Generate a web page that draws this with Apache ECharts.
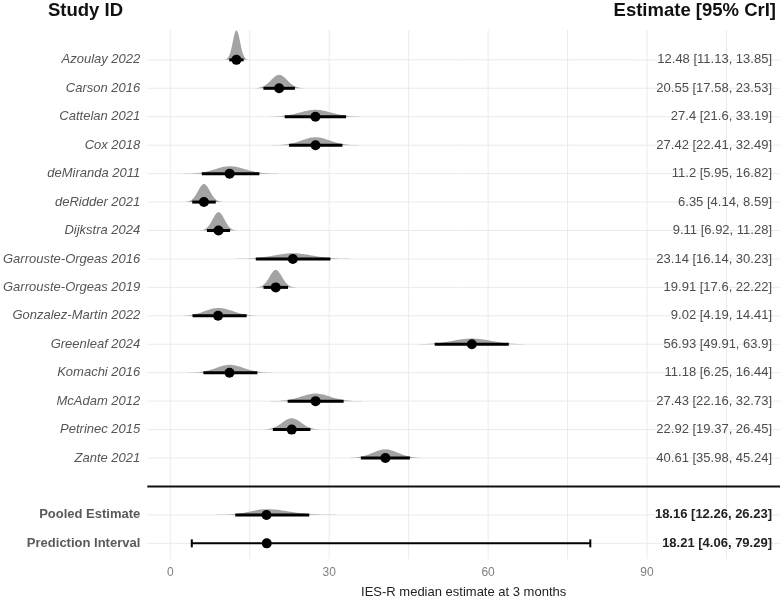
<!DOCTYPE html>
<html>
<head>
<meta charset="utf-8">
<script src="https://cdn.jsdelivr.net/npm/echarts@6/dist/echarts.min.js"></script>
<style>
  html, body { margin: 0; padding: 0; background: #fff; }
  #main { width: 783px; height: 604px; }
</style>
</head>
<body>
<div id="main"></div>
<script>
// study data (median and 95% CrI)
var studies = ['Azoulay 2022', 'Carson 2016', 'Cattelan 2021', 'Cox 2018', 'deMiranda 2011',
  'deRidder 2021', 'Dijkstra 2024', 'Garrouste-Orgeas 2016', 'Garrouste-Orgeas 2019',
  'Gonzalez-Martin 2022', 'Greenleaf 2024', 'Komachi 2016', 'McAdam 2012', 'Petrinec 2015', 'Zante 2021'];
var medians = [12.48, 20.55, 27.4, 27.42, 11.2, 6.35, 9.11, 23.14, 19.91, 9.02, 56.93, 11.18, 27.43, 22.92, 40.61];
var lowers = [11.13, 17.58, 21.6, 22.41, 5.95, 4.14, 6.92, 16.14, 17.6, 4.19, 49.91, 6.25, 22.16, 19.37, 35.98];
var uppers = [13.85, 23.53, 33.19, 32.49, 16.82, 8.59, 11.28, 30.23, 22.22, 14.41, 63.9, 16.44, 32.73, 26.45, 45.24];
var pooled = [18.16, 12.26, 26.23];      // median, lower, upper
var prediction = [18.21, 4.06, 79.29];   // median, lower, upper
var xTickLabels = [0, 30, 60, 90];
var xGridLines = [0, 15, 30, 45, 60, 75, 90, 105];

var X_MIN = -4.34, X_MAX = 115.1;
var Y_MIN = -1.05, Y_MAX = 17.55;
var SEP_ROW = studies.length;        // 15
var POOL_ROW = SEP_ROW + 1;          // 16
var PRED_ROW = SEP_ROW + 2;          // 17

var rowLabels = {};
studies.forEach(function (s, i) { rowLabels[i] = s; });
rowLabels[POOL_ROW] = 'Pooled Estimate';
rowLabels[PRED_ROW] = 'Prediction Interval';

// rows with density + CI
var intervalRows = studies.map(function (s, i) { return [medians[i], i, lowers[i], uppers[i]]; });
intervalRows.push([pooled[0], POOL_ROW, pooled[1], pooled[2]]);

var pointData = studies.map(function (s, i) { return [medians[i], i]; });
pointData.push([pooled[0], POOL_ROW]);
pointData.push([prediction[0], PRED_ROW]);

var fmt = function (m, l, u) { return m + ' [' + l + ', ' + u + ']'; };
var textData = studies.map(function (s, i) { return [X_MAX, i, fmt(medians[i], lowers[i], uppers[i]), 0]; });
textData.push([X_MAX, POOL_ROW, fmt(pooled[0], pooled[1], pooled[2]), 1]);
textData.push([X_MAX, PRED_ROW, fmt(prediction[0], prediction[1], prediction[2]), 1]);

var hRows = [];
for (var r = 0; r <= PRED_ROW; r++) if (r !== SEP_ROW) hRows.push([X_MIN, r]);

var myChart = echarts.init(document.getElementById('main'));

myChart.setOption({
  backgroundColor: '#fff',
  animation: false,
  textStyle: { fontFamily: 'Liberation Sans, Arial, sans-serif' },
  graphic: [
    { type: 'text', left: 48, top: 1, style: { text: 'Study ID', font: 'bold 18.5px Liberation Sans, Arial', fill: '#111' } },
    { type: 'text', right: 7, top: 1, style: { text: 'Estimate [95% CrI]', font: 'bold 18.5px Liberation Sans, Arial', fill: '#111' } }
  ],
  grid: { left: 147, right: 3, top: 30, bottom: 39 },
  xAxis: {
    type: 'value', min: X_MIN, max: X_MAX,
    axisLine: { show: false }, axisTick: { show: false }, splitLine: { show: false },
    axisLabel: { customValues: xTickLabels, color: '#7f7f7f', fontSize: 12, margin: 8 },
    name: 'IES-R median estimate at 3 months', nameLocation: 'middle', nameGap: 27,
    nameTextStyle: { color: '#222', fontSize: 13 }
  },
  yAxis: {
    type: 'value', inverse: true, min: Y_MIN, max: Y_MAX,
    axisLine: { show: false }, axisTick: { show: false }, splitLine: { show: false },
    axisLabel: {
      customValues: Object.keys(rowLabels).map(Number),
      margin: 7,
      formatter: function (v) {
        var t = rowLabels[v] || '';
        return v >= POOL_ROW ? '{b|' + t + '}' : '{i|' + t + '}';
      },
      rich: {
        i: { fontStyle: 'italic', color: '#555', fontSize: 13 },
        b: { fontWeight: 'bold', color: '#5a5a5a', fontSize: 13 }
      }
    }
  },
  series: [
    { // vertical gridlines
      type: 'custom', silent: true, z: 1,
      data: xGridLines.map(function (v) { return [v, 0]; }),
      renderItem: function (params, api) {
        var p1 = api.coord([api.value(0), Y_MIN]);
        var p2 = api.coord([api.value(0), Y_MAX]);
        return { type: 'line', shape: { x1: p1[0], y1: p1[1], x2: p2[0], y2: p2[1] },
          style: { stroke: '#ebebeb', lineWidth: 1 } };
      }
    },
    { // horizontal row lines
      type: 'custom', silent: true, z: 1,
      data: hRows,
      renderItem: function (params, api) {
        var p1 = api.coord([X_MIN, api.value(1)]);
        var p2 = api.coord([X_MAX, api.value(1)]);
        return { type: 'line', shape: { x1: p1[0], y1: p1[1], x2: p2[0], y2: p2[1] },
          style: { stroke: '#ebebeb', lineWidth: 1 } };
      }
    },
    { // separator
      type: 'custom', silent: true, z: 2,
      data: [[X_MIN, SEP_ROW]],
      renderItem: function (params, api) {
        var p1 = api.coord([X_MIN, api.value(1)]);
        var p2 = api.coord([X_MAX, api.value(1)]);
        return { type: 'line', shape: { x1: p1[0], y1: p1[1], x2: p2[0], y2: p2[1] },
          style: { stroke: '#111', lineWidth: 2 } };
      }
    },
    { // posterior densities (split normal shape from median and CrI)
      type: 'custom', silent: true, z: 3,
      data: intervalRows,
      renderItem: function (params, api) {
        var m = api.value(0), row = api.value(1), lo = api.value(2), hi = api.value(3);
        var sdL = (m - lo) / 1.96, sdR = (hi - m) / 1.96;
        var peak = 0.72 / ((sdL + sdR) / 2);
        var pts = [];
        for (var t = -3.2; t <= 3.201; t += 0.1) {
          var x = m + t * (t < 0 ? sdL : sdR);
          var h = peak * Math.exp(-t * t / 2);
          pts.push(api.coord([x, row - h]));
        }
        pts.push(api.coord([m + 3.2 * sdR, row]));
        pts.push(api.coord([m - 3.2 * sdL, row]));
        return { type: 'polygon', shape: { points: pts }, style: { fill: '#a3a3a3' } };
      }
    },
    { // credible interval lines
      type: 'custom', silent: true, z: 4,
      data: intervalRows,
      renderItem: function (params, api) {
        var p1 = api.coord([api.value(2), api.value(1)]);
        var p2 = api.coord([api.value(3), api.value(1)]);
        return { type: 'line', shape: { x1: p1[0], y1: p1[1], x2: p2[0], y2: p2[1] },
          style: { stroke: '#000', lineWidth: 3 } };
      }
    },
    { // prediction interval with caps
      type: 'custom', silent: true, z: 4,
      data: [[prediction[1], PRED_ROW, prediction[2]]],
      renderItem: function (params, api) {
        var p1 = api.coord([api.value(0), api.value(1)]);
        var p2 = api.coord([api.value(2), api.value(1)]);
        var st = { stroke: '#000', lineWidth: 2 };
        return { type: 'group', children: [
          { type: 'line', shape: { x1: p1[0], y1: p1[1], x2: p2[0], y2: p2[1] }, style: st },
          { type: 'line', shape: { x1: p1[0], y1: p1[1] - 4, x2: p1[0], y2: p1[1] + 4 }, style: st },
          { type: 'line', shape: { x1: p2[0], y1: p2[1] - 4, x2: p2[0], y2: p2[1] + 4 }, style: st }
        ] };
      }
    },
    { // medians
      type: 'scatter', silent: true, z: 5,
      symbol: 'circle', symbolSize: 10,
      itemStyle: { color: '#000', opacity: 1 },
      data: pointData
    },
    { // estimate texts on the right
      type: 'custom', silent: true, z: 6,
      data: textData,
      renderItem: function (params, api) {
        var p = api.coord([X_MAX, api.value(1)]);
        var d = textData[params.dataIndex];
        return { type: 'text', x: p[0] - 8, y: p[1],
          style: { text: d[2], align: 'right', verticalAlign: 'middle',
            font: (d[3] ? 'bold ' : '') + '13px Liberation Sans, Arial',
            fill: d[3] ? '#222' : '#4d4d4d' } };
      }
    }
  ]
});
</script>
</body>
</html>
